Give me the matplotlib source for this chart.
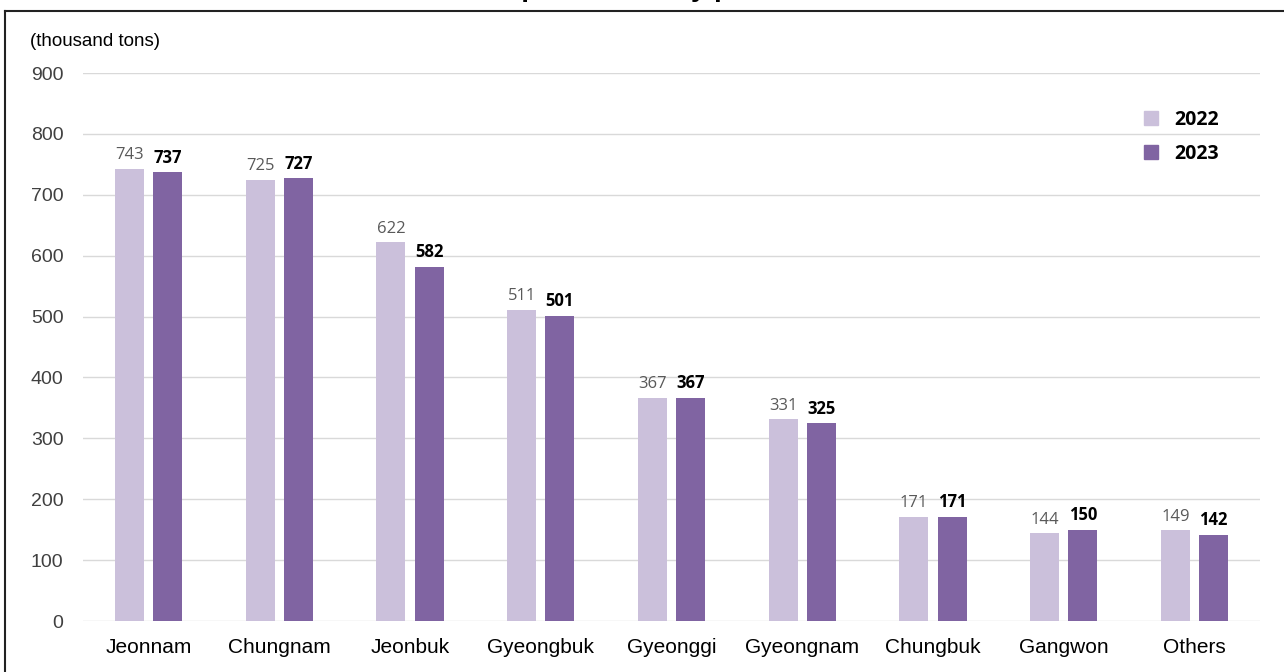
import matplotlib
matplotlib.use("Agg")
import matplotlib.pyplot as plt
import numpy as np
from matplotlib.lines import Line2D

categories = ["Jeonnam", "Chungnam", "Jeonbuk", "Gyeongbuk", "Gyeonggi",
              "Gyeongnam", "Chungbuk", "Gangwon", "Others"]
values_2022 = [743, 725, 622, 511, 367, 331, 171, 144, 149]
values_2023 = [737, 727, 582, 501, 367, 325, 171, 150, 142]
series_labels = ["2022", "2023"]
yticks = [0, 100, 200, 300, 400, 500, 600, 700, 800, 900]
unit_label = "(thousand tons)"
title_text = "Rice production by province"

c22 = "#CBC0DB"
c23 = "#8064A2"

W, H = 1284, 672
fig = plt.figure(figsize=(W / 100, H / 100), dpi=100)

def fx(px):
    return px / W

def fy(py):
    return 1 - py / H

left, right, top, bottom = 83, 1260, 73, 621
ax = fig.add_axes([fx(left), fy(bottom), fx(right - left), (bottom - top) / H])

x = np.arange(len(categories))
bw = 0.222
off = 0.146
b1 = ax.bar(x - off, values_2022, bw, color=c22, zorder=2)
b2 = ax.bar(x + off, values_2023, bw, color=c23, zorder=2)

for rect, v in zip(b1, values_2022):
    ax.annotate(str(v), (rect.get_x() + rect.get_width() / 2, v),
                xytext=(0, 4), textcoords="offset points", ha="center", va="bottom",
                fontsize=12, color="#595959", family=["Open Sans", "DejaVu Sans"])
for rect, v in zip(b2, values_2023):
    ax.annotate(str(v), (rect.get_x() + rect.get_width() / 2, v),
                xytext=(0, 4), textcoords="offset points", ha="center", va="bottom",
                fontsize=12, color="black", fontweight="bold",
                family=["Open Sans", "DejaVu Sans"])

ax.set_xlim(-0.5, len(categories) - 0.5)
ax.set_ylim(0, 900)
ax.set_yticks(yticks)
ax.set_yticklabels([str(t) for t in yticks], family=["Liberation Sans", "DejaVu Sans"],
                   fontsize=14, color="#404040")
ax.set_xticks(x)
ax.set_xticklabels(categories, family=["Liberation Sans", "DejaVu Sans"],
                   fontsize=15, color="black")
ax.tick_params(axis="y", length=0, pad=14)
ax.tick_params(axis="x", length=0, pad=12)
ax.grid(axis="y", color="#D9D9D9", linewidth=1, zorder=0)
ax.set_axisbelow(True)
for s in ax.spines.values():
    s.set_visible(False)

fig.text(fx(30), fy(42), unit_label, ha="left", va="center", fontsize=13.5,
         family=["Liberation Sans", "DejaVu Sans"], color="black")

# cut-off title at the very top (only descenders visible, as in the reference)
fig.text(0.5, 1 + 3.5 / H, title_text, ha="center", va="baseline", fontsize=20,
         fontweight="bold", family=["Liberation Sans", "DejaVu Sans"], color="black")

# frame line (top and left)
fig.add_artist(Line2D([fx(5), 1.0], [fy(11), fy(11)], color="#222222", lw=1.5,
                      transform=fig.transFigure))
fig.add_artist(Line2D([fx(5), fx(5)], [0, fy(11)], color="#222222", lw=1.5,
                      transform=fig.transFigure))

handles = [Line2D([], [], marker="s", linestyle="none", markersize=9.5,
                  markerfacecolor=c, markeredgecolor=c) for c in (c22, c23)]
leg = ax.legend(handles, series_labels, loc="center left",
                bbox_to_anchor=(fx(1132), fy(137)), bbox_transform=fig.transFigure,
                frameon=False, handlelength=1.0, handletextpad=0.7,
                labelspacing=0.75, borderpad=0,
                prop={"family": ["Open Sans", "DejaVu Sans"], "weight": "bold", "size": 14})

fig.savefig("out.png", dpi=100)
